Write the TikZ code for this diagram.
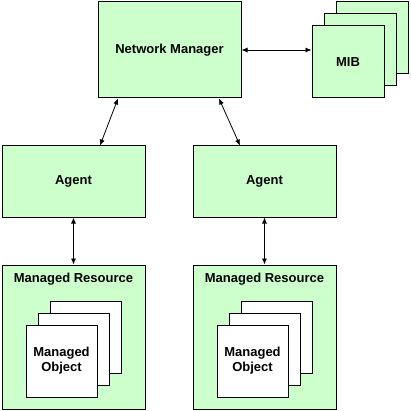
\documentclass[tikz,border=0pt]{standalone}
\usepackage{fontspec}
\setmainfont{Liberation Sans}
\usepackage{xcolor}
\usetikzlibrary{positioning,arrows.meta,calc}
\definecolor{boxgreen}{HTML}{CCFFCC}

\begin{document}
\begin{tikzpicture}[x=1pt, y=-1pt,
  font=\fontsize{13}{15}\selectfont\bfseries,
  p/.style={draw, fill=boxgreen, line width=1pt, inner sep=0pt, align=center},
  sheet/.style={draw, fill=white, line width=1pt, minimum width=71pt, minimum height=72pt, align=center},
  arr/.style={{Latex[length=6pt,width=5pt]}-{Latex[length=6pt,width=5pt]}, line width=0.8pt}]
\useasboundingbox (0,0) rectangle (411,411);
% manager and MIB stack
\node[p, minimum width=143pt, minimum height=96pt] (nm) at (169.5,50) {Network Manager};
\node[p, minimum width=72pt, minimum height=72pt] (mibc) at (372,38) {};
\node[p, minimum width=72pt, minimum height=72pt] (mibb) at (360,50) {};
\node[p, minimum width=72pt, minimum height=72pt] (mib) at (348,62) {MIB};
% agents
\node[p, minimum width=143pt, minimum height=71pt] (ag1) at (73.5,181.5) {Agent};
\node[p, minimum width=143pt, minimum height=71pt] (ag2) at (264.5,181.5) {Agent};
% managed resources
\node[p, minimum width=143pt, minimum height=144pt] (res1) at (73.5,337) {};
\node[p, minimum width=143pt, minimum height=144pt] (res2) at (264.5,337) {};
\node[below=5pt of res1.north] (res1t) {Managed Resource};
\node[below=5pt of res2.north] (res2t) {Managed Resource};
\node[sheet] (mo1c) at (85.5,337) {};
\node[sheet] (mo1b) at (73.5,349) {};
\node[sheet] (mo1) at (61.5,361) {Managed\\Object};
\node[sheet] (mo2c) at (276.5,337) {};
\node[sheet] (mo2b) at (264.5,349) {};
\node[sheet] (mo2) at (252.5,361) {Managed\\Object};
% links
\draw[arr] (nm.east) -- (nm.east -| mib.west);
\draw[arr] ($(nm.south)+(-51.5,0)$) -- ($(ag1.north)+(26.5,0)$);
\draw[arr] ($(nm.south)+(49.5,0)$) -- ($(ag2.north)+(-24.5,0)$);
\draw[arr] (ag1) -- (res1);
\draw[arr] (ag2) -- (res2);
\end{tikzpicture}
\end{document}
